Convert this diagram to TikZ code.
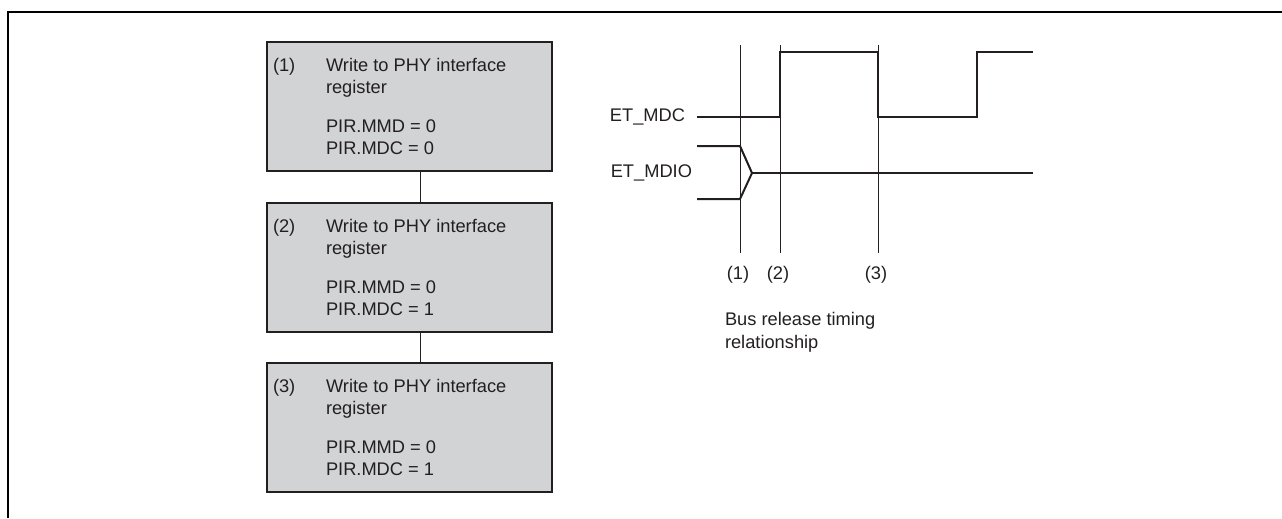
\documentclass[tikz,border=0pt]{standalone}
\usepackage{fontspec}
\setmainfont{Liberation Sans}
\usepackage{xcolor}
\usepackage{tikz}
\usetikzlibrary{arrows.meta,positioning}
\definecolor{boxgray}{RGB}{210,211,213}
\definecolor{inkgray}{RGB}{35,31,32}
\newcommand{\lf}{\fontsize{13.7}{17.2}\selectfont}

\begin{document}
\begin{tikzpicture}[x=0.75pt, y=0.75pt, every node/.style={inner sep=0pt, outer sep=0pt, font=\lf, text=inkgray}]
\useasboundingbox (0,0) rectangle (1282,-518);
% ---- page frame
\draw[black, line width=1.5pt] (8,-518) -- (8,-12) -- (1282,-12);
% ---- register write box
\newcommand{\regbox}[4]{% #1 = name; #2 = top y; #3 = step no.; #4 = MDC value
  \node[draw=inkgray, fill=boxgray, line width=1.5pt, anchor=north west,
        minimum width=213.75pt, minimum height=96.75pt] (#1) at (267,-#2) {};
  \node[anchor=base west] (#1no) at (273,-#2-29) {(#3)};
  \node[anchor=base west] (#1wr) at (326,-#2-29) {Write to PHY interface};
  \node[anchor=base west] (#1rg) at (326,-#2-51) {register};
  \node[anchor=base west] (#1mmd) at (326,-#2-90) {PIR.MMD = 0};
  \node[anchor=base west] (#1mdc) at (326,-#2-112) {PIR.MDC = #4};
}
\regbox{reg1}{42}{1}{0}
\regbox{reg2}{203}{2}{1}
\regbox{reg3}{363}{3}{1}
\coordinate (cx) at (420,0);
\draw[inkgray, line width=0.75pt] (reg1.south -| cx) -- (reg2.north -| cx);
\draw[inkgray, line width=0.75pt] (reg2.south -| cx) -- (reg3.north -| cx);
% ================= timing chart
\node[anchor=east] (mdc) at (685,-117) {ET\_MDC};
\node[anchor=east] (mdio) at (692,-173) {ET\_MDIO};
% markers
\node (t1) at (738,-275) {(1)};
\node (t2) at (778,-275) {(2)};
\node (t3) at (876,-275) {(3)};
\coordinate (m1) at (740,-45);
\coordinate (m2) at (780,-45);
\coordinate (m3) at (878,-45);
\foreach \m/\t in {m1/t1, m2/t2, m3/t3}
  \draw[inkgray, line width=0.75pt] (\m) -- ([yshift=10pt]\t.north -| \m);
% signals
\draw[inkgray, line width=1.5pt] ([xshift=9pt]mdc.east) -- (780,-117) -- (780,-52) -- (878,-52)
  -- (878,-117) -- (977,-117) -- (977,-52) -- (1033,-52);
\draw[inkgray, line width=1.5pt] (697,-146) -- (740,-146) -- (752,-173) -- (740,-199) -- (697,-199);
\draw[inkgray, line width=1.5pt] (752,-173) -- (1033,-173);
% caption
\node[anchor=base west] (cap) at (725,-325) {Bus release timing};
\node[anchor=base west] (cap2) at (725,-348) {relationship};
\end{tikzpicture}
\end{document}
